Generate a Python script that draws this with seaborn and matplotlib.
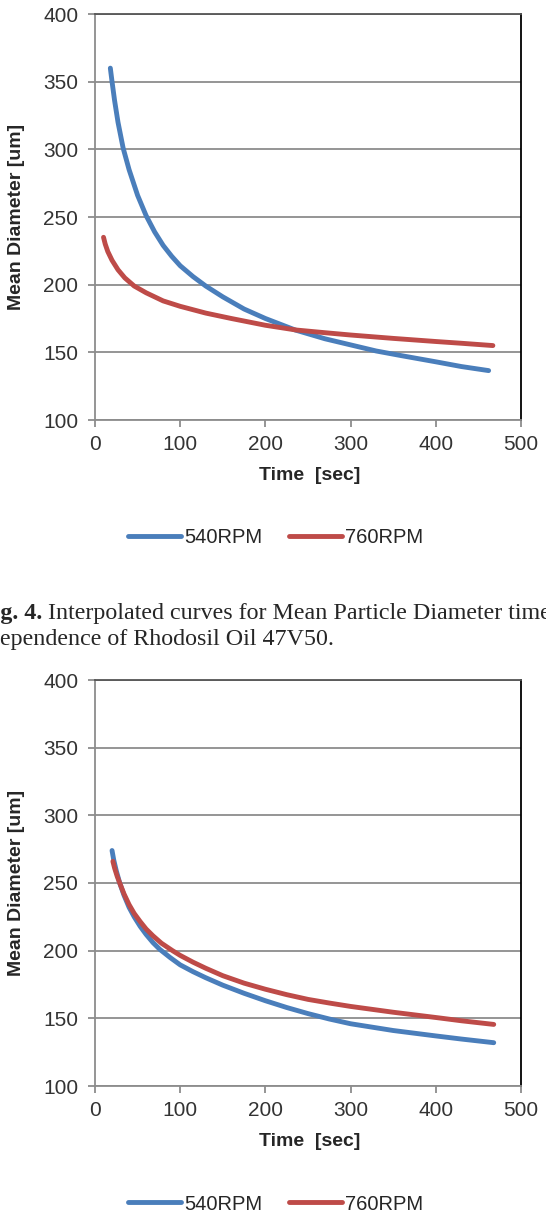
import matplotlib
matplotlib.use('Agg')
import matplotlib.pyplot as plt
import seaborn as sns
import pandas as pd

# Fig. 4 (top panel)
top_540_time = [18, 20, 23, 27, 33, 40, 50, 60, 70, 80, 90, 100, 115, 130, 150,
                175, 200, 235, 270, 300, 330, 360, 400, 430, 462]
top_540_diam = [360, 350, 336, 320, 301, 285, 266, 251, 239, 229, 221, 214, 206, 199, 191,
                182, 175, 166.5, 160, 155.5, 151, 147.5, 143, 139.5, 136.5]
top_760_time = [10, 12, 15, 20, 27, 35, 46, 60, 80, 100, 130, 160, 200, 236, 270,
                300, 350, 400, 430, 467]
top_760_diam = [235, 230, 224.5, 218, 211, 205, 199, 194, 188, 184, 179, 175, 170, 166.5, 164.5,
                162.8, 160.3, 158, 156.7, 155]

# bottom panel
bot_540_time = [20, 22, 25, 29, 34, 40, 46, 53, 60, 68, 76, 88, 100, 115, 130, 150,
                175, 200, 225, 250, 275, 300, 350, 400, 430, 468]
bot_540_diam = [274, 267, 259, 250, 241, 232, 225, 218, 212, 206, 201, 195, 189.5, 184.5, 180, 174.5,
                168.5, 163, 158, 153.5, 149.5, 146, 141, 137, 134.7, 132]
bot_760_time = [21, 23, 26, 29, 34, 40, 46, 53, 60, 68, 78, 91, 100, 115, 130, 150,
                175, 200, 225, 250, 275, 300, 350, 404, 430, 468]
bot_760_diam = [266, 261, 255, 250, 242, 234, 227.5, 221.5, 216, 211, 205.5, 200, 196.5, 191.5, 187, 181.5,
                176, 171.5, 167.5, 164, 161.3, 158.8, 154.5, 150.3, 148.2, 145.5]

series_names = ['540RPM', '760RPM']
x_ticks = [0, 100, 200, 300, 400, 500]
y_ticks = [100, 150, 200, 250, 300, 350, 400]
caption_bold = 'Fig. 4.'
caption_line1 = ' Interpolated curves for Mean Particle Diameter time'
caption_line2 = 'dependence of Rhodosil Oil 47V50.'


def make_frame(t1, d1, t2, d2):
    a = pd.DataFrame({'time': t1, 'diam': d1, 'rpm': series_names[0]})
    b = pd.DataFrame({'time': t2, 'diam': d2, 'rpm': series_names[1]})
    return pd.concat([a, b], ignore_index=True)


sns.set_style('white')
plt.rcParams['font.family'] = ['Liberation Sans', 'DejaVu Sans']

palette = {'540RPM': '#4a7ebb', '760RPM': '#be4b48'}
grid_col = '#8c8c8c'

fig = plt.figure(figsize=(5.46, 12.16), dpi=100)
ax1 = fig.add_axes([95 / 546, 1 - 420 / 1216, 426 / 546, 406 / 1216])
ax2 = fig.add_axes([95 / 546, 1 - 1086 / 1216, 426 / 546, 406 / 1216])

frames = [make_frame(top_540_time, top_540_diam, top_760_time, top_760_diam),
          make_frame(bot_540_time, bot_540_diam, bot_760_time, bot_760_diam)]
legend_y = [1 - 538 / 1216, 1 - 1204 / 1216]

for ax, df, ly in zip([ax1, ax2], frames, legend_y):
    sns.lineplot(data=df, x='time', y='diam', hue='rpm', palette=palette,
                 lw=3.5, solid_capstyle='round', solid_joinstyle='round',
                 ax=ax, legend=True, zorder=3)
    ax.set_xlim(0, 500)
    ax.set_ylim(100, 400)
    ax.set_xticks(x_ticks)
    ax.set_yticks(y_ticks)
    ax.grid(axis='y', color=grid_col, lw=1.3, zorder=0)
    ax.grid(axis='x', visible=False)
    for s in ['left', 'bottom']:
        ax.spines[s].set_color(grid_col)
        ax.spines[s].set_linewidth(1.3)
    ax.spines['top'].set_color('#555555')
    ax.spines['top'].set_linewidth(1.3)
    ax.spines['right'].set_color('black')
    ax.spines['right'].set_linewidth(1.3)
    ax.tick_params(axis='both', direction='out', length=5, width=1.3,
                   color=grid_col, labelsize=15, labelcolor='#333333',
                   left=True, bottom=True)
    ax.tick_params(axis='y', pad=7)
    ax.tick_params(axis='x', pad=6)
    ax.set_xlabel('Time  [sec]', fontsize=14, fontweight='bold')
    ax.set_ylabel('Mean Diameter [um]', fontsize=14, fontweight='bold')
    ax.yaxis.set_label_coords(-0.164, 0.5)
    ax.xaxis.set_label_coords(0.505, -0.116)
    handles, labels = ax.get_legend_handles_labels()
    ax.get_legend().remove()
    fig.legend(handles, labels, loc='center', bbox_to_anchor=(0.505, ly),
               ncol=2, frameon=False, fontsize=14.5, handlelength=2.65,
               handletextpad=0.15, columnspacing=1.3)

# caption between the panels, cut off at the left edge like the source
serif = ['Liberation Serif', 'DejaVu Serif']
t1 = fig.text(-0.039, 1 - 613 / 1216, caption_bold, fontsize=17.3,
              fontweight='bold', family=serif, va='center')
fig.canvas.draw()
bb = t1.get_window_extent(fig.canvas.get_renderer())
fig.text(bb.x1 / fig.bbox.width, 1 - 613 / 1216, caption_line1, fontsize=17.3,
         family=serif, va='center')
fig.text(-0.022, 1 - 640 / 1216, caption_line2, fontsize=17.3,
         family=serif, va='center')

fig.savefig('out.png', dpi=100)
